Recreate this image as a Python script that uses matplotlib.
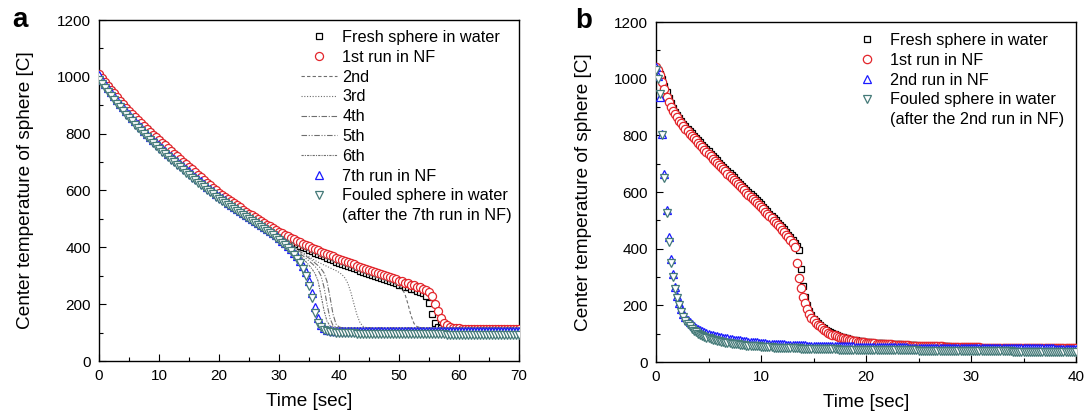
import numpy as np
import matplotlib
matplotlib.use('Agg')
import matplotlib.pyplot as plt
from matplotlib.lines import Line2D
from matplotlib.ticker import MultipleLocator

plt.rcParams['font.family'] = ['Liberation Sans', 'DejaVu Sans']

# ---------------- Panel a data (time step 0.5 s, 0..70 s) ----------------
t_a = np.arange(0, 70.0001, 0.5)

fresh_water_a = [1008, 994, 980, 966, 953, 940, 927, 914, 902, 890, 878,
                 867, 856, 846, 835, 825, 815, 805, 795, 785, 776,
                 766, 757, 747, 738, 728, 719, 709, 700, 691, 682,
                 672, 662, 653, 644, 635, 625, 616, 607, 597, 588,
                 580, 572, 564, 556, 549, 541, 534, 526, 519, 512,
                 505, 498, 491, 485, 478, 471, 465, 458, 452, 445,
                 439, 434, 428, 423, 417, 412, 406, 401, 396, 391,
                 386, 381, 377, 372, 368, 363, 359, 355, 350, 346,
                 342, 338, 334, 330, 326, 322, 318, 314, 310, 306,
                 302, 299, 295, 291, 288, 284, 280, 277, 273, 269,
                 266, 262, 259, 255, 252, 248, 244, 238, 228, 205,
                 165, 135, 120, 115, 113] + [112] * 25

nf_run1_a = [1010, 996, 982, 968, 955, 942, 929, 916, 904, 892, 880,
             869, 858, 848, 837, 827, 817, 807, 797, 787, 778,
             768, 759, 749, 740, 730, 721, 711, 702, 693, 684,
             675, 665, 656, 647, 638, 628, 619, 610, 601, 592,
             585, 577, 570, 562, 555, 548, 541, 533, 526, 519,
             513, 506, 500, 493, 487, 480, 474, 467, 461, 455,
             450, 444, 439, 434, 429, 423, 418, 413, 408, 403,
             399, 394, 390, 385, 381, 377, 372, 368, 364, 360,
             356, 352, 348, 344, 340, 336, 332, 328, 324, 320,
             316, 313, 309, 305, 302, 298, 294, 291, 287, 283,
             280, 276, 273, 269, 266, 262, 259, 255, 250, 244,
             228, 200, 175, 152, 135, 126, 120, 117, 116, 115] + [114] * 7 + [113] * 13

nf_run7_a = [1005, 990, 975, 961, 947, 933, 919, 906, 893, 880, 868,
             856, 844, 833, 822, 811, 800, 789, 779, 769, 759,
             749, 740, 730, 721, 712, 703, 694, 685, 676, 667,
             658, 649, 640, 632, 623, 614, 605, 597, 588, 580,
             572, 565, 557, 550, 543, 535, 528, 521, 514, 507,
             500, 493, 486, 479, 472, 465, 458, 450, 442, 433,
             424, 414, 404, 393, 381, 368, 353, 335, 312, 282,
             240, 190, 150, 125, 115, 110, 108, 107, 107, 106] + [106] * 20 + [105] * 40

fouled_water_a = [990, 975, 961, 947, 933, 919, 906, 893, 880, 867, 855,
                  843, 831, 820, 809, 798, 787, 776, 766, 756, 746,
                  736, 727, 717, 708, 699, 690, 681, 672, 663, 654,
                  645, 637, 628, 620, 611, 603, 594, 586, 578, 570,
                  562, 555, 548, 541, 534, 527, 520, 513, 506, 499,
                  492, 485, 478, 471, 464, 457, 450, 442, 434, 426,
                  417, 407, 397, 386, 374, 360, 344, 325, 300, 265,
                  220, 170, 135, 118, 110, 106, 103, 101, 100, 99,
                  98, 98, 97, 97, 97, 96, 96, 96, 96, 95] + [95] * 10 + [94] * 15 + [93] * 15 + [92] * 10

# runs 2nd..6th drawn as lines, from 25 s (time step 0.5 s)
t_lines = np.arange(25, 70.0001, 0.5)
run2_a = [512, 505, 498, 491, 485, 478, 471, 465, 458, 452, 445,
          436, 430, 425, 419, 414, 408, 403, 398, 393, 388,
          383, 378, 374, 369, 365, 360, 356, 352, 347, 343,
          339, 335, 331, 327, 323, 319, 315, 311, 307, 303,
          299, 296, 292, 288, 285, 281, 277, 274, 270, 266,
          255, 235, 200, 160, 132, 121, 118, 117, 116, 116] + [116] * 30
run3_a = [512, 505, 498, 491, 485, 478, 471, 465, 458, 452, 445,
          438, 430, 422, 414, 405, 397, 389, 381, 374, 367,
          360, 354, 348, 343, 338, 333, 328, 323, 318, 312,
          304, 292, 272, 240, 200, 162, 135, 122, 118, 116] + [115] * 50
run4_a = [512, 505, 498, 491, 485, 478, 471, 465, 458, 452, 445,
          437, 428, 419, 410, 401, 393, 385, 377, 369, 362,
          354, 345, 336, 325, 310, 280, 225, 165, 130, 120] + [117] + [116] * 59
run5_a = [512, 505, 498, 491, 485, 478, 470, 462, 454, 447, 440,
          432, 424, 415, 405, 396, 387, 378, 370, 361, 352,
          343, 333, 320, 300, 260, 200, 150, 125, 119, 117] + [116] * 60
run6_a = [510, 502, 494, 486, 478, 470, 462, 455, 448, 441, 434,
          427, 420, 411, 402, 392, 382, 371, 360, 349, 337,
          324, 308, 282, 232, 178, 140, 124, 119, 117, 116] + [116] * 60

# ---------------- Panel b data (time step 0.2 s, 0..40 s) ----------------
t_b = np.arange(0, 40.0001, 0.2)

fresh_water_b = [1040, 1032, 1018, 998, 975,
                 952, 932, 914, 898, 884,
                 872, 861, 851, 841, 832,
                 823, 815, 807, 799, 791,
                 783, 775, 767, 759, 751,
                 743, 735, 727, 720, 712,
                 704, 697, 689, 682, 674,
                 667, 659, 652, 644, 637,
                 629, 622, 615, 607, 600,
                 593, 585, 578, 571, 563,
                 556, 548, 540, 532, 524,
                 516, 508, 500, 492, 484,
                 476, 468, 459, 450, 440,
                 430, 420, 408, 395, 330,
                 270, 228, 200, 180, 165,
                 153, 144, 137, 130, 124,
                 119, 114, 109, 105, 101,
                 98, 95, 92, 90, 88,
                 85, 83, 81, 79, 77,
                 76, 75, 74, 73, 72,
                 71, 70, 69, 68, 68,
                 67, 67, 66, 66, 65,
                 65, 64, 64, 63, 63,
                 62, 62, 61, 61, 61,
                 60, 60, 59, 59, 59,
                 58, 58, 58, 57, 57,
                 57, 57, 56, 56, 56,
                 56, 55, 55, 55, 55,
                 54, 54, 54, 54, 53,
                 53, 53, 53, 53, 52] + [52] * 5 + [51] * 10 + [50] * 15 + [49] * 15 + [48] * 6

nf_run1_b = [1040, 1030, 1012, 988, 962,
             935, 917, 901, 887, 874,
             863, 852, 842, 832, 823,
             814, 806, 798, 790, 782,
             774, 766, 758, 750, 742,
             734, 726, 718, 711, 703,
             695, 688, 680, 673, 665,
             658, 650, 643, 635, 628,
             620, 613, 606, 598, 591,
             584, 576, 569, 562, 554,
             547, 539, 531, 523, 515,
             507, 499, 491, 483, 475,
             467, 459, 450, 441, 431,
             420, 407, 350, 298, 260,
             230, 207, 187, 170, 157,
             147, 139, 132, 126, 120,
             114, 109, 104, 100, 97,
             94, 91, 88, 86, 84,
             82, 80, 78, 76, 74,
             73, 72, 71, 70, 69,
             68, 67, 67, 66, 66,
             65, 65, 64, 64, 63,
             63, 62, 62, 61, 61,
             60, 60, 60, 59, 59,
             59, 58, 58, 58, 57,
             57, 57, 57, 56, 56,
             56, 56, 55, 55, 55,
             55, 55, 54, 54, 54,
             54, 54, 53, 53, 53,
             53, 53, 53, 52, 52] + [52] * 5 + [51] * 10 + [50] * 15 + [49] * 15 + [48] * 6

nf_run2_b = [1040, 1010, 935, 805, 665,
             535, 440, 365, 310, 265,
             232, 207, 186, 170, 158,
             148, 140, 133, 127, 121,
             116, 112, 108, 105, 102,
             99, 97, 95, 93, 91,
             89, 87, 86, 84, 83,
             81, 80, 79, 78, 77,
             76, 75, 74, 73, 72,
             71, 70, 69, 69, 68,
             67, 66, 66, 65, 65,
             64, 64, 63, 63, 62,
             62, 62, 61, 61, 61,
             60, 60, 60, 59, 59,
             59, 59, 58, 58, 58,
             58, 57, 57, 57, 57,
             56, 56, 56, 56, 56,
             56, 56, 55, 55, 55,
             55, 55, 55, 55, 55,
             54, 54, 54, 54, 54,
             54, 54, 53, 53, 53] + [53] * 5 + [52] * 10 + [51] * 15 + [50] * 15 + [49] * 20 + [48] * 20 + [47] * 11

fouled_water_b = [1030, 1000, 945, 800, 650,
                  525, 425, 350, 300, 258,
                  225, 200, 178, 160, 146,
                  135, 126, 118, 111, 105,
                  100, 96, 92, 89, 86,
                  83, 81, 79, 77, 75,
                  73, 71, 70, 68, 67,
                  66, 65, 64, 63, 62,
                  61, 60, 59, 58, 58,
                  57, 56, 56, 55, 55,
                  54, 54, 53, 53, 52,
                  52, 51, 51, 51, 50,
                  50, 50, 49, 49, 49,
                  48, 48, 48, 48, 47,
                  47, 47, 47, 46, 46] + [46] * 5 + [45] * 7 + [44] * 8 + [43] * 10 + [42] * 10 + \
                 [41] * 10 + [40] * 15 + [39] * 15 + [38] * 15 + [37] * 20 + [36] * 11

# ---------------- styling ----------------
RED = '#e3252b'
BLUE = '#1a1aff'
TEAL = '#457a78'
GRAY = '#6e6e6e'

fig = plt.figure(figsize=(10.85, 4.19), dpi=100)
W, H = 1085.0, 419.0
axa = fig.add_axes([99 / W, 1 - 361 / H, 420 / W, 341 / H])
axb = fig.add_axes([656 / W, 1 - 362 / H, 420 / W, 340 / H])

mk = dict(ls='none', mfc='white', mew=0.9)

# Panel a
h_sq = axa.plot(t_a, fresh_water_a, marker='s', ms=4.2, mec='black', zorder=2, **mk)[0]
h_ci = axa.plot(t_a, nf_run1_a, marker='o', ms=5.8, mec=RED, zorder=3, **mk)[0]
styles = [(0, (3, 2)), (0, (1, 1.5)), (0, (5, 1.5, 1, 1.5)),
          (0, (5, 1.5, 1, 1.5, 1, 1.5)), (0, (2, 1, 1, 1))]
line_handles = []
for vals, st in zip([run2_a, run3_a, run4_a, run5_a, run6_a], styles):
    line_handles.append(axa.plot(t_lines, vals, color=GRAY, lw=0.8, ls=st, zorder=4)[0])
h_up = axa.plot(t_a, nf_run7_a, marker='^', ms=6.2, mec=BLUE, zorder=5, **mk)[0]
h_dn = axa.plot(t_a, fouled_water_a, marker='v', ms=6.2, mec=TEAL, zorder=6, **mk)[0]
blank = Line2D([], [], ls='none')

axa.set_xlim(0, 70)
axa.set_ylim(0, 1200)
axa.xaxis.set_major_locator(MultipleLocator(10))
axa.xaxis.set_minor_locator(MultipleLocator(5))

handles_a = [h_sq, h_ci] + line_handles + [h_up, h_dn, blank]
labels_a = ['Fresh sphere in water', '1st run in NF', '2nd', '3rd', '4th', '5th', '6th',
            '7th run in NF', 'Fouled sphere in water', '(after the 7th run in NF)']
axa.legend(handles_a, labels_a, loc='upper left', bbox_to_anchor=(301 / W, 1 - 30.1 / H),
           bbox_transform=fig.transFigure, frameon=False, fontsize=11.7, borderpad=0,
           borderaxespad=0, handlelength=2.2, handletextpad=0.35, labelspacing=0.295, numpoints=1)

# Panel b
hb_sq = axb.plot(t_b, fresh_water_b, marker='s', ms=4.3, mec='black', zorder=2, **mk)[0]
hb_ci = axb.plot(t_b, nf_run1_b, marker='o', ms=6.0, mec=RED, zorder=3, **mk)[0]
hb_up = axb.plot(t_b, nf_run2_b, marker='^', ms=6.3, mec=BLUE, zorder=5, **mk)[0]
hb_dn = axb.plot(t_b, fouled_water_b, marker='v', ms=6.3, mec=TEAL, zorder=6, **mk)[0]

axb.set_xlim(0, 40)
axb.set_ylim(0, 1200)
axb.xaxis.set_major_locator(MultipleLocator(10))
axb.xaxis.set_minor_locator(MultipleLocator(5))

handles_b = [hb_sq, hb_ci, hb_up, hb_dn, blank]
labels_b = ['Fresh sphere in water', '1st run in NF', '2nd run in NF',
            'Fouled sphere in water', '(after the 2nd run in NF)']
axb.legend(handles_b, labels_b, loc='upper left', bbox_to_anchor=(849 / W, 1 - 33.1 / H),
           bbox_transform=fig.transFigure, frameon=False, fontsize=11.7, borderpad=0,
           borderaxespad=0, handlelength=2.2, handletextpad=0.35, labelspacing=0.295, numpoints=1)

for ax, yl in ((axa, -0.1536), (axb, -0.152)):
    ax.yaxis.set_major_locator(MultipleLocator(200))
    ax.yaxis.set_minor_locator(MultipleLocator(100))
    ax.tick_params(which='both', direction='in', top=False, right=False, width=0.8,
                   labelsize=11)
    ax.tick_params(which='major', length=5)
    ax.tick_params(which='minor', length=2.7)
    ax.tick_params(axis='x', pad=5.5)
    ax.tick_params(axis='y', pad=6)
    for s in ax.spines.values():
        s.set_linewidth(1.0)
    ax.set_xlabel('Time [sec]', fontsize=13.7)
    ax.set_ylabel('Center temperature of sphere [C]', fontsize=13.7)
    ax.yaxis.set_label_coords(yl, 0.5)
    ax.xaxis.set_label_coords(0.5, -0.094)

fig.text(12 / W, 1 - 27 / H, 'a', fontsize=20, fontweight='bold', va='baseline', ha='left')
fig.text(575 / W, 1 - 28 / H, 'b', fontsize=20, fontweight='bold', va='baseline', ha='left')

fig.savefig('out.png', dpi=100)
